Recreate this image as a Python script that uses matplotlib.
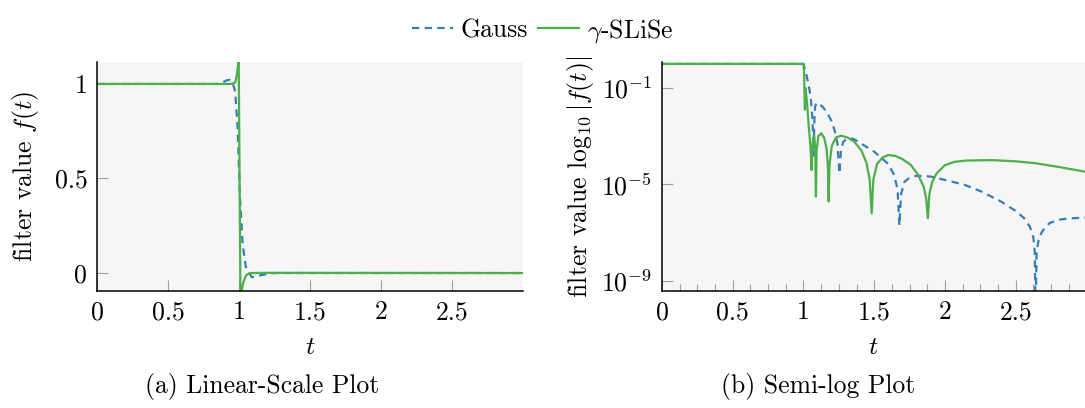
import numpy as np
import matplotlib
matplotlib.use("Agg")
import matplotlib.pyplot as plt
from matplotlib.ticker import FixedLocator, MultipleLocator

plt.rcParams['font.family'] = 'serif'
plt.rcParams['font.serif'] = ['cmr10']
plt.rcParams['mathtext.fontset'] = 'cm'
plt.rcParams['axes.formatter.use_mathtext'] = True
plt.rcParams['font.size'] = 18.5

# linear-scale panel (a): filter value f(t)
t_gauss_lin = [0.0, 0.85, 0.88, 0.91, 0.935, 0.95, 0.962, 0.973, 0.99, 1.006, 1.025,
               1.048, 1.072, 1.09, 1.12, 1.16, 1.2, 1.254, 3.0]
f_gauss_lin = [1.0, 1.0, 1.006, 1.018, 1.022, 1.012, 0.99, 0.96, 0.774, 0.42, 0.157,
               0.033, 0.0, -0.022, -0.02, -0.01, -0.005, 0.0, 0.0]

t_slise_lin = [0.0, 0.94, 0.965, 0.975, 0.985, 0.998, 1.010, 1.03, 1.05, 1.075, 1.2, 3.0]
f_slise_lin = [1.0, 1.0, 1.004, 1.01, 1.05, 1.13, -0.12, -0.05, -0.012, 0.0, 0.001, 0.0]

# semi-log panel (b): log10 |f(t)|
t_gauss_log = [0.0, 1.0, 1.015, 1.029, 1.042, 1.053, 1.062, 1.068, 1.072, 1.076, 1.082,
               1.09, 1.11, 1.135, 1.165, 1.195, 1.22, 1.24, 1.254, 1.265, 1.28, 1.30,
               1.33, 1.36, 1.42, 1.50, 1.56, 1.60, 1.64, 1.665, 1.678, 1.69, 1.714,
               1.75, 1.79, 1.85, 1.903, 2.02, 2.14, 2.26, 2.40, 2.50, 2.56, 2.60,
               2.625, 2.635, 2.64, 2.648, 2.665, 2.693, 2.74, 2.80, 2.87, 2.99]
e_gauss_log = [0.0, 0.0, -0.3, -0.67, -1.05, -1.5, -2.2, -2.9, -3.8, -2.5, -1.8,
               -1.62, -1.66, -1.78, -2.0, -2.33, -2.75, -3.3, -4.55, -3.6, -3.25, -3.13,
               -3.08, -3.13, -3.35, -3.64, -3.95, -4.15, -4.6, -5.2, -6.7, -5.4, -4.89,
               -4.72, -4.65, -4.64, -4.68, -4.84, -5.02, -5.3, -5.72, -6.1, -6.4, -6.75,
               -7.2, -7.8, -10.5, -7.8, -7.2, -6.9, -6.6, -6.47, -6.41, -6.38]

t_slise_log = [0.0, 1.0, 1.004, 1.010, 1.014, 1.025, 1.036, 1.046, 1.053, 1.057, 1.061,
               1.068, 1.076, 1.083, 1.088, 1.093, 1.105, 1.125, 1.145, 1.163, 1.172,
               1.178, 1.184, 1.2, 1.23, 1.265, 1.31, 1.36, 1.41, 1.445, 1.468, 1.482,
               1.494, 1.52, 1.56, 1.6, 1.65, 1.70, 1.76, 1.81, 1.85, 1.868, 1.879,
               1.89, 1.91, 1.94, 2.0, 2.07, 2.15, 2.33, 2.5, 2.64, 2.8, 2.99]
e_slise_log = [0.0, 0.0, -0.3, -1.9, -1.0, -1.6, -2.5, -3.2, -3.8, -4.4, -3.6,
               -3.1, -3.0, -3.5, -5.5, -3.6, -3.0, -2.88, -3.05, -3.5, -4.2,
               -5.7, -4.2, -3.4, -3.05, -2.98, -3.05, -3.23, -3.6, -4.1, -4.8, -6.2,
               -4.8, -4.15, -3.88, -3.78, -3.82, -3.95, -4.2, -4.6, -5.1, -5.6, -6.4,
               -5.4, -4.9, -4.55, -4.2, -4.06, -4.01, -3.99, -4.04, -4.12, -4.27, -4.47]

blue = '#377eb8'
green = '#4daf4a'
bg = '#f6f6f6'
lw = 1.6
dash = (3.3, 2.4)

fig = plt.figure(figsize=(10.85, 4.08), dpi=100)
ax1 = fig.add_axes([97 / 1085, 1 - 291 / 408, 426 / 1085, 229 / 408])
ax2 = fig.add_axes([662 / 1085, 1 - 291 / 408, 423 / 1085, 229 / 408])


def style(ax):
    ax.set_facecolor(bg)
    for s in ['top', 'right']:
        ax.spines[s].set_visible(False)
    for s in ['left', 'bottom']:
        ax.spines[s].set_linewidth(1.1)
        ax.spines[s].set_color('black')
    ax.tick_params(which='major', direction='in', length=8, width=0.8,
                   color='#a0a0a0', pad=7)
    ax.tick_params(which='minor', direction='in', length=5, width=0.8,
                   color='#a0a0a0')
    ax.set_xlabel(r'$t$', labelpad=8)


# (a) linear scale
ax1.plot(t_gauss_lin, f_gauss_lin, color=blue, lw=lw, ls=(0, dash), label='Gauss')
ax1.plot(t_slise_lin, f_slise_lin, color=green, lw=lw, label=r'$\gamma$-SLiSe')
ax1.set_xlim(0, 3)
ax1.set_ylim(-0.095, 1.116)
ax1.xaxis.set_major_locator(FixedLocator([0, 0.5, 1, 1.5, 2, 2.5]))
ax1.set_xticklabels(['0', '0.5', '1', '1.5', '2', '2.5'])
ax1.yaxis.set_major_locator(FixedLocator([0, 0.5, 1]))
ax1.set_yticklabels(['0', '0.5', '1'])
ax1.set_ylabel(r'filter value $f(t)$', labelpad=10)
style(ax1)

# (b) semi-log
ax2.plot(t_gauss_log, 10.0 ** np.array(e_gauss_log), color=blue, lw=lw, ls=(0, dash))
ax2.plot(t_slise_log, 10.0 ** np.array(e_slise_log), color=green, lw=lw)
ax2.set_yscale('log')
ax2.set_xlim(0, 2.99)
ax2.set_ylim(10 ** -9.42, 10 ** 0.079)
ax2.xaxis.set_major_locator(FixedLocator([0, 0.5, 1, 1.5, 2, 2.5]))
ax2.set_xticklabels(['0', '0.5', '1', '1.5', '2', '2.5'])
ax2.xaxis.set_minor_locator(MultipleLocator(0.125))
ax2.yaxis.set_major_locator(FixedLocator([1e-9, 1e-5, 1e-1]))
ax2.yaxis.set_minor_locator(FixedLocator([]))
ax2.set_yticklabels([r'$10^{-9}$', r'$10^{-5}$', r'$10^{-1}$'])
ax2.set_ylabel(r'filter value $\log_{10}|f(t)|$', labelpad=4)
style(ax2)

fig.legend(loc='upper center', bbox_to_anchor=(0.5, 1.0), ncol=2, frameon=False,
           handlelength=1.6, handletextpad=0.3, columnspacing=0.4, borderpad=0.15)

fig.text(262 / 1085, 1 - 386 / 408, '(a) Linear-Scale Plot', ha='center', va='center')
fig.text(818 / 1085, 1 - 386 / 408, '(b) Semi-log Plot', ha='center', va='center')

fig.savefig('out.png', dpi=100)
